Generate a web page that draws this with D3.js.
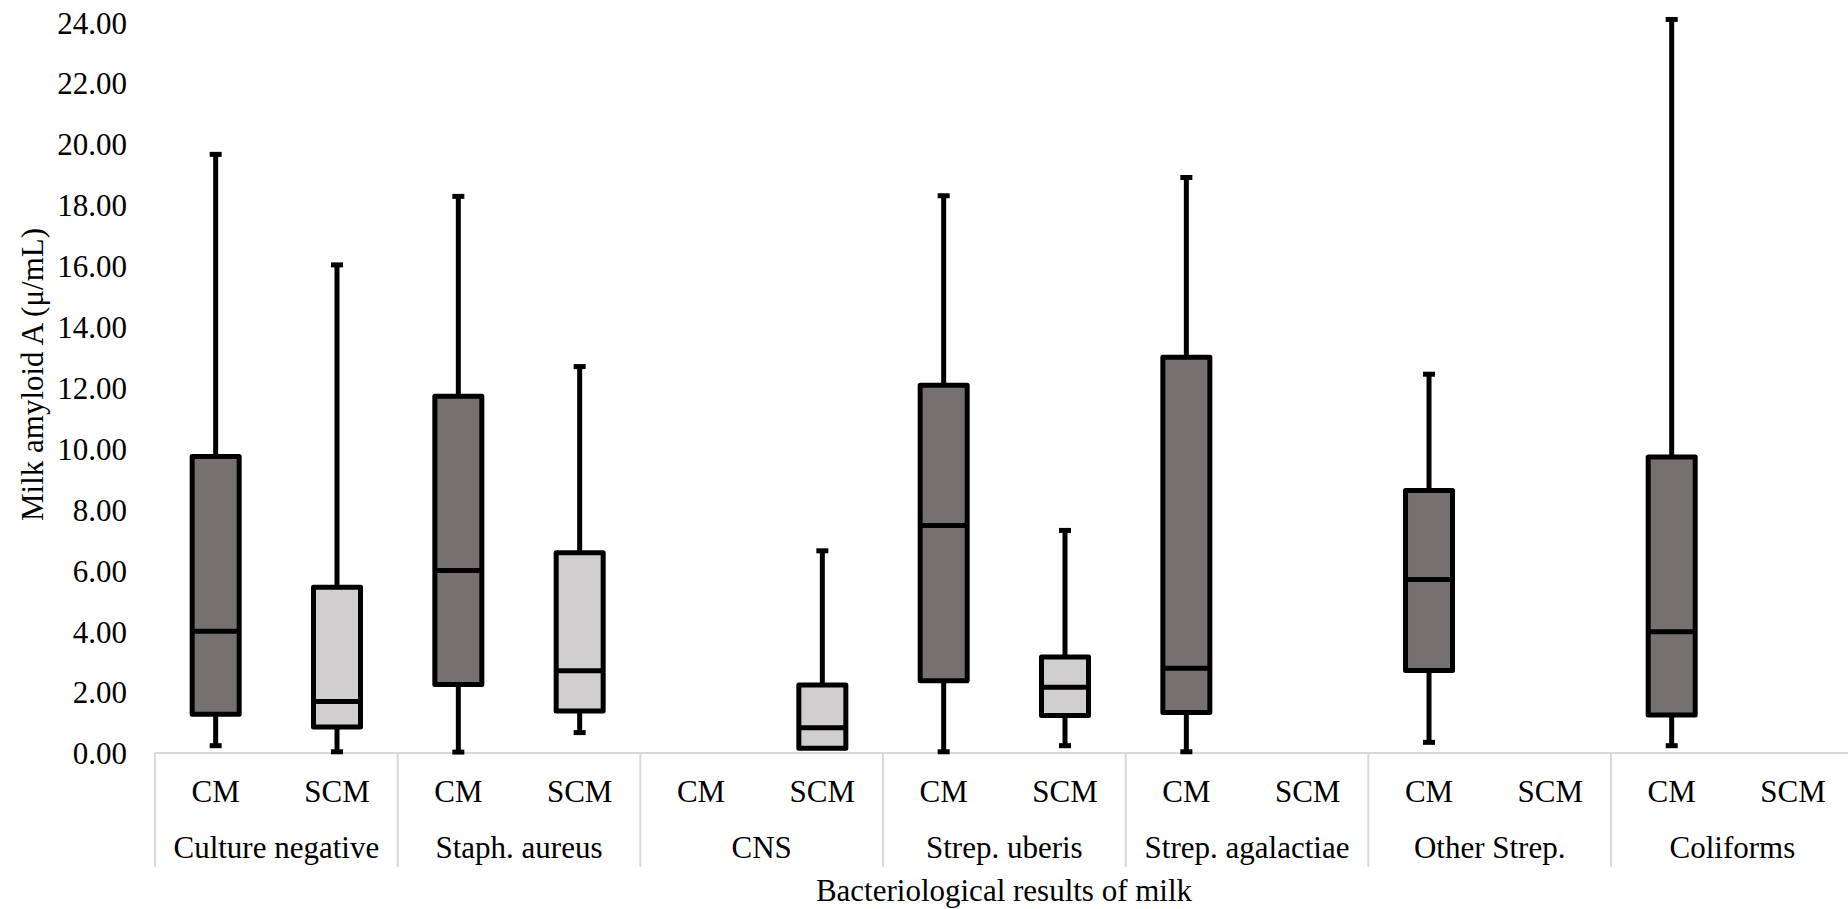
<!DOCTYPE html>
<html>
<head>
<meta charset="utf-8">
<script src="https://cdn.jsdelivr.net/npm/d3@7"></script>
<style>
  html, body { margin: 0; padding: 0; background: #fff; }
  #boxPlot { width: 1848px; height: 909px; overflow: hidden; }
</style>
</head>
<body>
<div id="boxPlot"></div>
<script>
// bacteria groups on the x axis
const categories = ["Culture negative", "Staph. aureus", "CNS", "Strep. uberis", "Strep. agalactiae", "Other Strep.", "Coliforms"];
const subGroups = ["CM", "SCM"];
const yTicks = [0, 2, 4, 6, 8, 10, 12, 14, 16, 18, 20, 22, 24];

// five number summaries per group, null where there is no box
const cmMin    = [0.24, 0.03, null, 0.04, 0.04, 0.35, 0.24];
const cmQ1     = [1.27, 2.25, null, 2.37, 1.33, 2.71, 1.25];
const cmMedian = [4.00, 5.99, null, 7.47, 2.78, 5.70, 3.98];
const cmQ3     = [9.74, 11.72, null, 12.08, 13.00, 8.62, 9.72];
const cmMax    = [19.66, 18.28, null, 18.30, 18.90, 12.44, 24.09];

const scmMin    = [0.04, 0.67, 0.16, 0.24, null, null, null];
const scmQ1     = [0.85, 1.38, 0.16, 1.23, null, null, null];
const scmMedian = [1.69, 2.70, 0.83, 2.16, null, null, null];
const scmQ3     = [5.44, 6.58, 2.23, 3.15, null, null, null];
const scmMax    = [16.03, 12.69, 6.64, 7.31, null, null, null];

const fillColors = { CM: "#767171", SCM: "#d0cece" };
const serif = "'Liberation Serif', 'Times New Roman', 'DejaVu Serif', serif";

const chartWidth = 1848;
const chartHeight = 909;
const plotLeft = 155;
const groupWidth = 242.67;
const plotBottom = 753;
const plotTop = 22.2;

// build rows for drawing
const boxes = [];
categories.forEach((cat, i) => {
  if (cmMedian[i] !== null) {
    boxes.push({ cat: cat, sub: "CM", min: cmMin[i], q1: cmQ1[i], med: cmMedian[i], q3: cmQ3[i], max: cmMax[i] });
  }
  if (scmMedian[i] !== null) {
    boxes.push({ cat: cat, sub: "SCM", min: scmMin[i], q1: scmQ1[i], med: scmMedian[i], q3: scmQ3[i], max: scmMax[i] });
  }
});

const svg = d3.create("svg")
  .attr("width", chartWidth)
  .attr("height", chartHeight)
  .attr("viewBox", [0, 0, chartWidth, chartHeight])
  .style("font-family", serif)
  .style("font-size", "31px");

const xScale = d3.scaleBand()
  .domain(categories)
  .range([plotLeft, plotLeft + groupWidth * categories.length])
  .padding(0);

const xSub = d3.scaleBand()
  .domain(subGroups)
  .range([0, xScale.bandwidth()])
  .padding(0);

const yScale = d3.scaleLinear()
  .domain([0, 24])
  .range([plotBottom, plotTop]);

const boxWidth = 47;
const capWidth = 12;
const center = d => xScale(d.cat) + xSub(d.sub) + xSub.bandwidth() / 2;

// y axis: labels only, no line
const yAxis = svg.append("g")
  .attr("transform", "translate(127,0)")
  .call(d3.axisLeft(yScale).tickValues(yTicks).tickSize(0).tickPadding(0).tickFormat(d3.format(".2f")));
yAxis.select(".domain").remove();
yAxis.attr("font-family", null).attr("font-size", null);
yAxis.selectAll("text")
  .style("font-family", serif)
  .style("font-size", "31px")
  .attr("fill", "#000")
  .attr("dy", "0.35em");

// category axis line + separators
svg.append("line")
  .attr("x1", plotLeft).attr("x2", plotLeft + groupWidth * categories.length)
  .attr("y1", plotBottom).attr("y2", plotBottom)
  .attr("stroke", "#d9d9d9")
  .attr("stroke-width", 2);

svg.selectAll(".sep")
  .data(categories.concat(["end"]))
  .enter().append("line")
  .attr("class", "sep")
  .attr("x1", (d, i) => plotLeft + i * xScale.step())
  .attr("x2", (d, i) => plotLeft + i * xScale.step())
  .attr("y1", plotBottom)
  .attr("y2", 867)
  .attr("stroke", "#d9d9d9")
  .attr("stroke-width", 2);

// CM / SCM labels under every group
const subLabels = categories.flatMap(cat => subGroups.map(sub => ({ cat: cat, sub: sub })));
svg.selectAll(".subLabel")
  .data(subLabels)
  .enter().append("text")
  .attr("class", "subLabel")
  .attr("x", center)
  .attr("y", 802)
  .attr("text-anchor", "middle")
  .text(d => d.sub);

svg.selectAll(".catLabel")
  .data(categories)
  .enter().append("text")
  .attr("class", "catLabel")
  .attr("x", d => xScale(d) + xScale.bandwidth() / 2)
  .attr("y", 858)
  .attr("text-anchor", "middle")
  .text(d => d);

// whiskers
const plot = svg.append("g");

plot.selectAll(".whiskerTop")
  .data(boxes)
  .enter().append("line")
  .attr("x1", center).attr("x2", center)
  .attr("y1", d => yScale(d.q3)).attr("y2", d => yScale(d.max))
  .attr("stroke", "#000").attr("stroke-width", 5);

plot.selectAll(".whiskerBottom")
  .data(boxes.filter(d => d.min < d.q1))
  .enter().append("line")
  .attr("x1", center).attr("x2", center)
  .attr("y1", d => yScale(d.q1)).attr("y2", d => yScale(d.min))
  .attr("stroke", "#000").attr("stroke-width", 5);

// caps at the whisker ends
const capData = boxes.flatMap(d => [{ d: d, v: d.max }].concat(d.min < d.q1 ? [{ d: d, v: d.min }] : []));
plot.selectAll(".cap")
  .data(capData)
  .enter().append("line")
  .attr("x1", c => center(c.d) - capWidth / 2)
  .attr("x2", c => center(c.d) + capWidth / 2)
  .attr("y1", c => yScale(c.v))
  .attr("y2", c => yScale(c.v))
  .attr("stroke", "#000").attr("stroke-width", 5);

// boxes
plot.selectAll(".box")
  .data(boxes)
  .enter().append("rect")
  .attr("x", d => center(d) - boxWidth / 2)
  .attr("y", d => yScale(d.q3))
  .attr("width", boxWidth)
  .attr("height", d => yScale(d.q1) - yScale(d.q3))
  .attr("fill", d => fillColors[d.sub])
  .attr("stroke", "#000")
  .attr("stroke-width", 5)
  .attr("stroke-linejoin", "round");

// medians
plot.selectAll(".median")
  .data(boxes)
  .enter().append("line")
  .attr("x1", d => center(d) - boxWidth / 2)
  .attr("x2", d => center(d) + boxWidth / 2)
  .attr("y1", d => yScale(d.med))
  .attr("y2", d => yScale(d.med))
  .attr("stroke", "#000").attr("stroke-width", 5);

// axis titles
svg.append("text")
  .attr("transform", "translate(43,374.5) rotate(-90)")
  .attr("text-anchor", "middle")
  .text("Milk amyloid A (μ/mL)");

svg.append("text")
  .attr("x", 1004)
  .attr("y", 901)
  .attr("text-anchor", "middle")
  .text("Bacteriological results of milk");

document.getElementById("boxPlot").appendChild(svg.node());
</script>
</body>
</html>
